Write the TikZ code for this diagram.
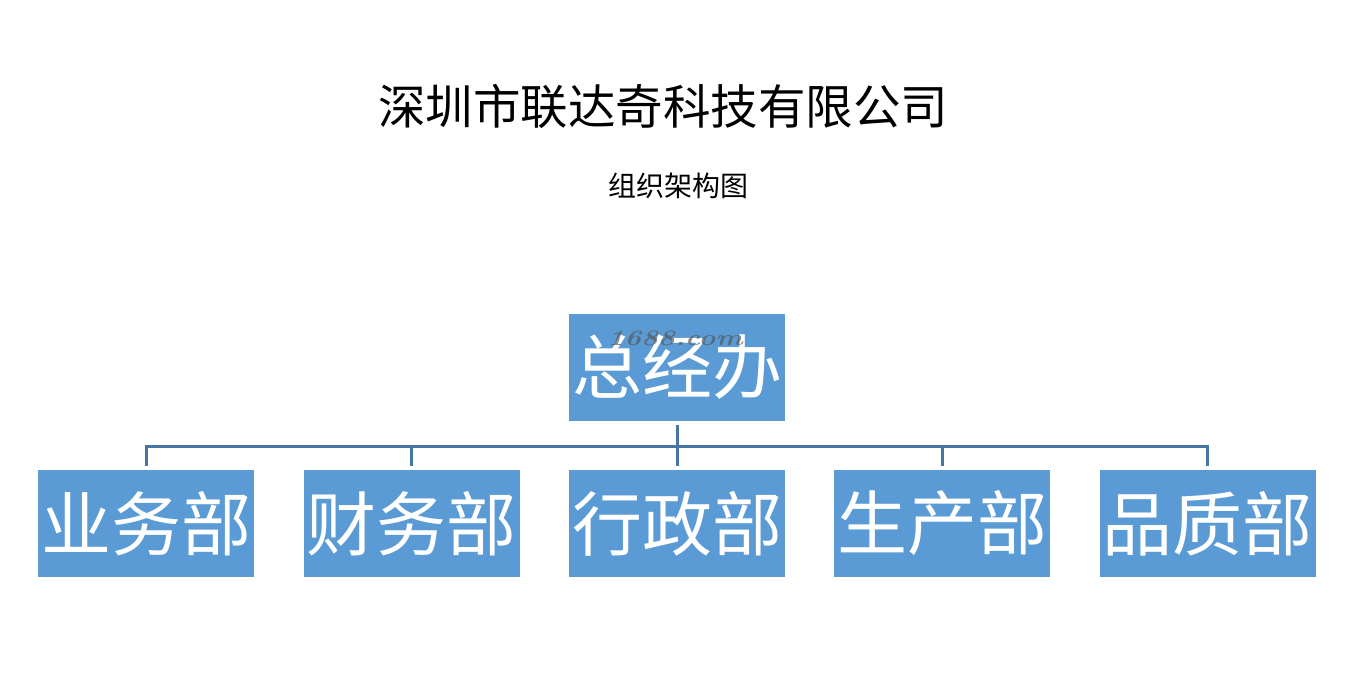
\documentclass[tikz,border=0pt]{standalone}
\usepackage{fontspec}
\newfontfamily\cjk{Noto Sans CJK SC}
\usetikzlibrary{positioning,calc}
\definecolor{boxblue}{RGB}{91,155,213}
\definecolor{lineblue}{RGB}{72,118,164}
\tikzset{dept/.style={fill=boxblue, text=white, minimum width=216pt, minimum height=107pt, inner sep=0pt, font=\cjk\fontsize{70}{70}\selectfont}}
\tikzset{link/.style={lineblue, line width=3pt, shorten <=4pt, shorten >=4pt}}

\begin{document}
\begin{tikzpicture}[x=1pt, y=1pt, node distance=49pt]
    \useasboundingbox (0,0) rectangle (1348,676);

    % Titles
    \node (title) at (663,570) {\cjk\fontsize{47.5}{47.5}\selectfont 深圳市联达奇科技有限公司};
    \node (subtitle) at (678,490) {\cjk\fontsize{28}{28}\selectfont 组织架构图};

    % Boxes
    \node[dept] (boss) at (677,308.5) {\raisebox{3pt}{总经办}};
    \node[dept] (admin) at (677,152.5) {\raisebox{3pt}{行政部}};
    \node[dept, left=of admin] (finance) {\raisebox{3pt}{财务部}};
    \node[dept, left=of finance] (sales) {\raisebox{3pt}{业务部}};
    \node[dept, right=of admin] (production) {\raisebox{3pt}{生产部}};
    \node[dept, right=of production] (quality) {\raisebox{3pt}{品质部}};

    \node[gray!70!black, opacity=0.7, font=\bfseries\itshape\fontsize{22}{22}\selectfont, xscale=1.3] (mark) at (675,338) {1688.com};

    % Links
    \foreach \d in {sales,finance,admin,production,quality}
        \draw[link] (boss.south) -- ++(0,-25) -| (\d.north);
\end{tikzpicture}
\end{document}
